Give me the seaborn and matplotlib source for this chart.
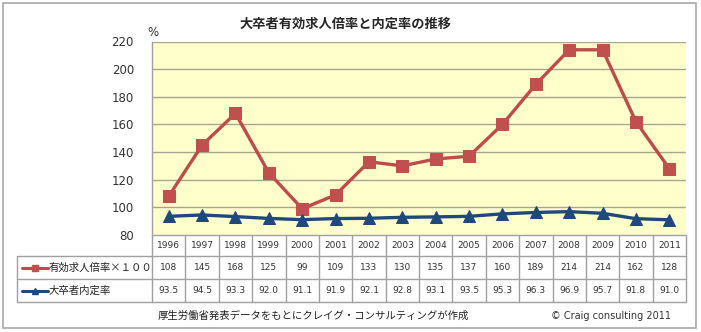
import matplotlib
matplotlib.use("Agg")
import matplotlib.pyplot as plt
import seaborn as sns
import pandas as pd
from matplotlib.patches import Rectangle

years = [1996, 1997, 1998, 1999, 2000, 2001, 2002, 2003, 2004, 2005,
         2006, 2007, 2008, 2009, 2010, 2011]
ratio_x100 = [108, 145, 168, 125, 99, 109, 133, 130, 135, 137, 160, 189, 214, 214, 162, 128]
naitei = [93.5, 94.5, 93.3, 92.0, 91.1, 91.9, 92.1, 92.8, 93.1, 93.5,
          95.3, 96.3, 96.9, 95.7, 91.8, 91.0]
series_names = ["有効求人倍率×１００", "大卒者内定率"]
y_ticks = [80, 100, 120, 140, 160, 180, 200, 220]
title = "大卒者有効求人倍率と内定率の推移"
source = "厚生労働省発表データをもとにクレイグ・コンサルティングが作成"
credit = "© Craig consulting 2011"

sns.set_style("white")
plt.rcParams['font.family'] = ['DejaVu Sans', 'Noto Sans CJK JP']
JP = ['Noto Sans CJK JP', 'DejaVu Sans']

W, H = 701, 332
fig = plt.figure(figsize=(W / 100, H / 100), dpi=100)

def fx(px):
    return px / W

def fy(py):
    return 1 - py / H

red_line = "#BE4B48"
red_mk = "#C0504D"
blue = "#1F497D"
grid_c = "#A6A68C"
tab_c = "#A0A0A0"
txt_c = "#333333"

# outer frame
fig.patches.append(Rectangle((fx(3), fy(328)), fx(693), 325 / H, transform=fig.transFigure,
                             fill=False, edgecolor="#A8A8A8", linewidth=1.2))

pl, pr, pt, pb = 152, 686, 41.5, 235
ax = fig.add_axes([fx(pl), fy(pb), fx(pr - pl), (pb - pt) / H])
ax.set_facecolor("#FFFFCC")

idx = list(range(len(years)))
df = pd.DataFrame({"i": idx, "r": ratio_x100, "n": naitei})
sns.lineplot(data=df, x="i", y="r", ax=ax, color=red_line, linewidth=2.4,
             marker="s", markersize=8, markerfacecolor=red_mk, markeredgecolor=red_mk, zorder=3)
sns.lineplot(data=df, x="i", y="n", ax=ax, color=blue, linewidth=2.4,
             marker="^", markersize=8, markerfacecolor=blue, markeredgecolor=blue, zorder=3)

ax.set_xlim(-0.5, len(years) - 0.5)
ax.set_ylim(80, 220)
ax.set_yticks(y_ticks)
ax.set_yticklabels([str(t) for t in y_ticks], fontsize=8.5, color=txt_c)
ax.tick_params(axis="y", length=0, pad=13)
ax.set_xticks([])
ax.set_xlabel("")
ax.set_ylabel("")
for t in y_ticks[1:]:
    ax.axhline(t, color=grid_c, linewidth=1.0, zorder=1)
for s in ["top", "right", "bottom"]:
    ax.spines[s].set_visible(False)
ax.spines["left"].set_color(tab_c)
ax.spines["left"].set_linewidth(1.0)

fig.text(fx(153), fy(32), "%", fontsize=8.5, ha="center", va="center", color=txt_c)
fig.text(fx(346), fy(24), title, fontsize=9.5, fontweight="bold", ha="center", va="center",
         family=JP)

# table
tl = 17
colw = (pr - pl) / len(years)
left_units = (pl - tl) / colw
tb = 302
tax = fig.add_axes([fx(tl), fy(tb), fx(pr - tl), (tb - pb) / H])
tax.set_xlim(-0.5 - left_units, len(years) - 0.5)
tax.set_ylim(tb - pb, 0)
tax.axis("off")
rows = [0, 21, 44, 67]
xl = -0.5 - left_units
xr = len(years) - 0.5
for r in rows[1:]:
    tax.plot([xl, xr], [r, r], color=tab_c, linewidth=1.0, clip_on=False)
tax.plot([-0.5, xr], [0, 0], color=tab_c, linewidth=1.0, clip_on=False)
for k in range(len(years) + 1):
    tax.plot([k - 0.5, k - 0.5], [0, rows[-1]], color=tab_c, linewidth=1.0, clip_on=False)
tax.plot([xl, xl], [rows[1], rows[-1]], color=tab_c, linewidth=1.0, clip_on=False)

for i, y in enumerate(years):
    tax.text(i, (rows[0] + rows[1]) / 2, str(y), ha="center", va="center", fontsize=6.5, color=txt_c)
    tax.text(i, (rows[1] + rows[2]) / 2, f"{ratio_x100[i]}", ha="center", va="center", fontsize=6.5, color=txt_c)
    tax.text(i, (rows[2] + rows[3]) / 2, f"{naitei[i]:.1f}", ha="center", va="center", fontsize=6.5, color=txt_c)

lx0 = xl + 5 / colw
lx1 = xl + 31 / colw
ym1 = (rows[1] + rows[2]) / 2
ym2 = (rows[2] + rows[3]) / 2
tax.plot([lx0, lx1], [ym1, ym1], color=red_line, linewidth=2.2, clip_on=False)
tax.plot([(lx0 + lx1) / 2], [ym1], marker="s", markersize=4.5, color=red_mk, clip_on=False)
tax.plot([lx0, lx1], [ym2, ym2], color=blue, linewidth=2.2, clip_on=False)
tax.plot([(lx0 + lx1) / 2], [ym2], marker="^", markersize=4.5, color=blue, clip_on=False)
tax.text(xl + 32 / colw, ym1, series_names[0], ha="left", va="center", fontsize=7.5, color="#222222", family=JP)
tax.text(xl + 32 / colw, ym2, series_names[1], ha="left", va="center", fontsize=7.5, color="#222222", family=JP)

fig.text(fx(313), fy(316), source, fontsize=7.5, ha="center", va="center", color="#222222", family=JP)
fig.text(fx(611), fy(316), credit, fontsize=7, ha="center", va="center", color=txt_c)

fig.savefig("out.png", dpi=100)
